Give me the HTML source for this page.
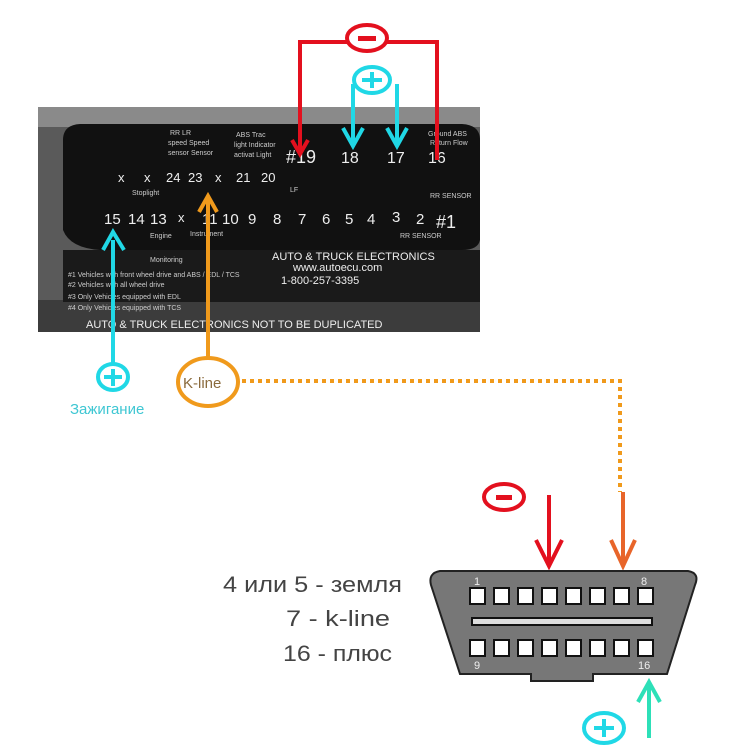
<!DOCTYPE html>
<html><head><meta charset="utf-8"><style>
body{margin:0;background:#fff;}
svg{display:block;}
text{font-family:"Liberation Sans","DejaVu Sans",sans-serif;}
</style></head><body>
<svg width="750" height="750" viewBox="0 0 750 750" xmlns="http://www.w3.org/2000/svg">
<rect width="750" height="750" fill="#fff"/>
<rect x="38" y="107" width="442" height="225" fill="#5a5a5a"/>
<rect x="38" y="107" width="442" height="20" fill="#8a8a8a"/>
<rect x="38" y="300" width="442" height="32" fill="#3c3c3c"/>
<path d="M63 140 Q63 125 80 124 L462 124 Q480 125 480 140 L480 240 Q478 250 462 250 L100 250 Q70 248 63 230 Z" fill="#111"/>
<rect x="63" y="250" width="417" height="52" fill="#1a1a1a"/>
<g fill="#eee" font-size="13" style="font-family:'Liberation Serif',serif">
<text x="118" y="182">x</text><text x="144" y="182">x</text><text x="166" y="182">24</text><text x="188" y="182">23</text><text x="215" y="182">x</text><text x="236" y="182">21</text><text x="261" y="182">20</text>
<text x="286" y="163" font-size="18">#19</text><text x="341" y="163" font-size="16">18</text><text x="387" y="163" font-size="16">17</text><text x="428" y="163" font-size="16">16</text>
<text x="104" y="224" font-size="15">15</text><text x="128" y="224" font-size="15">14</text><text x="150" y="224" font-size="15">13</text><text x="178" y="222">x</text><text x="202" y="224" font-size="15">11</text><text x="222" y="224" font-size="15">10</text><text x="248" y="224" font-size="15">9</text><text x="273" y="224" font-size="15">8</text><text x="298" y="224" font-size="15">7</text><text x="322" y="224" font-size="15">6</text><text x="345" y="224" font-size="15">5</text><text x="367" y="224" font-size="15">4</text><text x="392" y="222" font-size="15">3</text><text x="416" y="224" font-size="15">2</text><text x="436" y="228" font-size="18">#1</text>
</g>
<g fill="#ccc" font-size="7">
<text x="170" y="135">RR  LR</text><text x="168" y="145">speed Speed</text><text x="168" y="155">sensor Sensor</text>
<text x="236" y="137">ABS Trac</text><text x="234" y="147">light Indicator</text><text x="234" y="157">activat Light</text>
<text x="428" y="136">Ground ABS</text><text x="430" y="145">Return Flow</text>
<text x="132" y="195">Stoplight</text><text x="290" y="192">LF</text><text x="430" y="198">RR SENSOR</text>
<text x="190" y="236">Instrument</text><text x="150" y="238">Engine</text><text x="400" y="238">RR SENSOR</text>
<text x="150" y="262">Monitoring</text>
<text x="68" y="277">#1 Vehicles with front wheel drive and ABS / EDL / TCS</text>
<text x="68" y="287">#2 Vehicles with all wheel drive</text>
<text x="68" y="299">#3 Only Vehicles equipped with EDL</text>
<text x="68" y="310">#4 Only Vehicles equipped with TCS</text>
</g>
<g fill="#eee">
<text x="272" y="260" font-size="11">AUTO &amp; TRUCK ELECTRONICS</text>
<text x="293" y="271" font-size="11">www.autoecu.com</text>
<text x="281" y="284" font-size="11">1-800-257-3395</text>
<text x="86" y="328" font-size="11">AUTO &amp; TRUCK ELECTRONICS  NOT TO BE DUPLICATED</text>
</g>
<g stroke="#e3101e" stroke-width="4" fill="none">
<path d="M300 152 L300 42 L347 42 M387 42 L437 42 L437 160"/>
<ellipse cx="367" cy="38" rx="20" ry="13"/>
<path d="M292 140 L300 154 L308 140"/>
</g>
<rect x="358" y="36" width="18" height="5" fill="#e3101e"/>
<g stroke="#20d8e6" stroke-width="4" fill="none">
<ellipse cx="372" cy="80" rx="18" ry="13"/>
<path d="M362 80 L382 80 M372 72 L372 88"/>
<path d="M353 84 L353 146 M397 84 L397 146"/>
<path d="M343 128 L353 146 L363 128 M387 128 L397 146 L407 128"/>
</g>
<g stroke="#20d8e6" stroke-width="4" fill="none">
<path d="M113 364 L113 240 M103 250 L113 232 L124 250"/>
<ellipse cx="113" cy="377" rx="15" ry="13"/>
<path d="M104 377 L122 377 M113 369 L113 386"/>
</g>
<text x="70" y="414" font-size="15" fill="#3fc7d3">Зажигание</text>
<g stroke="#f09a1c" stroke-width="4" fill="none">
<path d="M208 357 L208 200 M199 212 L208 196 L217 212"/>
<ellipse cx="208" cy="382" rx="30" ry="24"/>
<path d="M242 381 L620 381 L620 492" stroke-dasharray="4 4"/>
</g>
<text x="183" y="388" font-size="15" fill="#8a6a3c">K-line</text>
<g stroke="#e8652a" stroke-width="4" fill="none">
<path d="M623 492 L623 566 M611 540 L623 566 L635 540"/>
</g>
<g stroke="#e3101e" stroke-width="4" fill="none">
<path d="M549 495 L549 566 M536 540 L549 566 L562 540"/>
<ellipse cx="504" cy="497" rx="20" ry="13"/>
</g>
<rect x="496" y="495" width="16" height="5" fill="#e3101e"/>
<path d="M440 571 L688 571 Q700 573 695 585 L667 674 L593 674 L593 681 L531 681 L531 674 L460 674 L431 585 Q428 573 440 571 Z" fill="#777" stroke="#222" stroke-width="2"/>
<g fill="#fff" stroke="#111" stroke-width="2">
<rect x="470" y="588" width="15" height="16"/><rect x="494" y="588" width="15" height="16"/><rect x="518" y="588" width="15" height="16"/><rect x="542" y="588" width="15" height="16"/><rect x="566" y="588" width="15" height="16"/><rect x="590" y="588" width="15" height="16"/><rect x="614" y="588" width="15" height="16"/><rect x="638" y="588" width="15" height="16"/>
<rect x="472" y="618" width="180" height="7" fill="#ddd"/>
<rect x="470" y="640" width="15" height="16"/><rect x="494" y="640" width="15" height="16"/><rect x="518" y="640" width="15" height="16"/><rect x="542" y="640" width="15" height="16"/><rect x="566" y="640" width="15" height="16"/><rect x="590" y="640" width="15" height="16"/><rect x="614" y="640" width="15" height="16"/><rect x="638" y="640" width="15" height="16"/>
</g>
<g fill="#eee" font-size="11" font-family="Liberation Mono">
<text x="474" y="585">1</text><text x="641" y="585">8</text><text x="474" y="669">9</text><text x="638" y="669">16</text>
</g>
<g stroke="#2de0b8" stroke-width="4" fill="none">
<path d="M649 738 L649 682 M638 702 L649 682 L660 702"/>
</g>
<g stroke="#20d8e6" stroke-width="4" fill="none">
<ellipse cx="604" cy="728" rx="20" ry="15"/>
<path d="M594 728 L614 728 M604 719 L604 737"/>
</g>
<g fill="#444" font-size="22">
<text x="223" y="592" textLength="179" lengthAdjust="spacingAndGlyphs">4 или 5 - земля</text>
<text x="286" y="626" textLength="104" lengthAdjust="spacingAndGlyphs">7 - k-line</text>
<text x="283" y="661" textLength="109" lengthAdjust="spacingAndGlyphs">16 - плюс</text>
</g>
</svg>
</body></html>
